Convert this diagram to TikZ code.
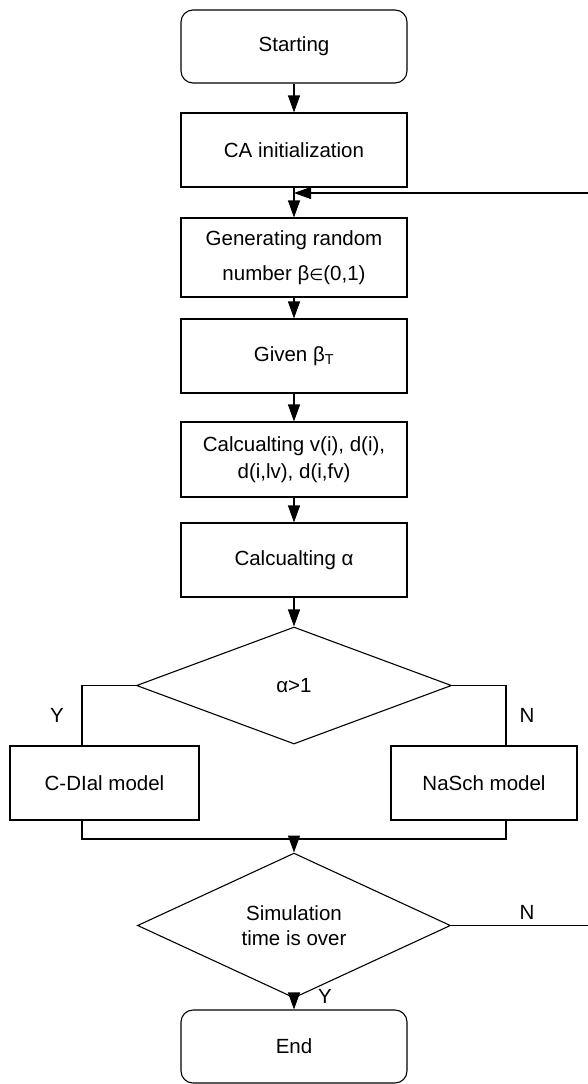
\documentclass[tikz,border=0pt]{standalone}
\usepackage{fontspec}
\setmainfont{Liberation Sans}
\newfontfamily\symfont{DejaVu Sans}
\usetikzlibrary{shapes.geometric,arrows.meta}

\begin{document}
\begin{tikzpicture}[x=1pt, y=-1pt, line width=1.1pt,
  font=\fontsize{20.5}{24}\selectfont,
  stepbox/.style={draw, rectangle, minimum width=226pt, minimum height=74pt, align=center, inner sep=0pt},
  termbox/.style={stepbox, rounded corners=12pt, minimum height=73pt},
  choice/.style={draw, diamond, minimum width=315pt, minimum height=117pt, align=center, inner sep=0pt},
  flow/.style={-{Triangle[length=17pt,width=12pt]}}]
\useasboundingbox (0,0) rectangle (588,1084);

\node (start) [termbox] at (294,46.5) {Starting};
\node (init) [stepbox] at (294,150) {CA initialization};
\node (rand) [stepbox, minimum height=79pt, font=\fontsize{20.5}{35}\selectfont] at (294,257.5) {Generating random\\number β{\symfont\fontsize{16}{20}\selectfont ∈}(0,1)};
\node (given) [stepbox] at (294,356) {Given β\textsubscript{T}};
\node (calcv) [stepbox, minimum height=75pt, font=\fontsize{20.5}{27}\selectfont] at (294,459.5) {Calcualting v(i), d(i),\\d(i,lv), d(i,fv)};
\node (calca) [stepbox] at (294,560) {Calcualting α};
\node (cond) [choice] at (294,685.5) {α>1};
\node (dial) [stepbox, minimum width=189pt] at (104.5,783) {C-DIal model};
\node (nasch) [stepbox, minimum width=186pt] at (484,783) {NaSch model};
\node (sim) [choice, minimum width=313pt, font=\fontsize{20.5}{25}\selectfont] at (294,925.5) {Simulation\\time is over};
\node (end) [termbox] at (294,1046.5) {End};

\node (ylab) at (57,715) {Y};
\node (nlab) at (527,715) {N};
\node (nback) at (527,912) {N};
\node (yend) at (325,996) {Y};

\coordinate (join) at (294,193);
\coordinate (merge) at (294,839);
\coordinate (loop) at (596,925.5);

\draw [flow] (start) -- (init);
\draw [flow] (init) -- (rand);
\draw [flow] (rand) -- (given);
\draw [flow] (given) -- (calcv);
\draw [flow] (calcv) -- (calca);
\draw [flow] (calca) -- (cond);
\draw (cond.west) -| ([xshift=-22.5pt]dial.north);
\draw (cond.east) -| ([xshift=22pt]nasch.north);
\draw ([xshift=-22.5pt]dial.south) |- (merge) -| ([xshift=22pt]nasch.south);
\draw [flow] (merge) -- (sim.north);
\draw [flow] (sim) -- (end);
\draw [flow] (sim.east) -- (loop) |- (join);
\end{tikzpicture}
\end{document}
